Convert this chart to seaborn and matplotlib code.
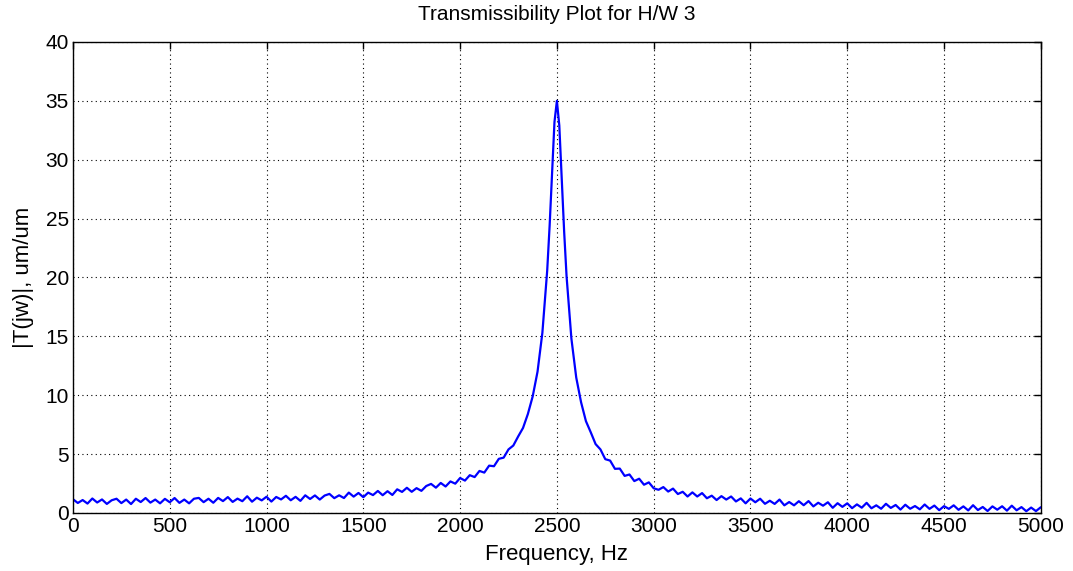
import matplotlib
matplotlib.use("Agg")
import matplotlib.pyplot as plt
import seaborn as sns
import numpy as np
import pandas as pd

# frequency grid (Hz): finer spacing around the resonance
freq_hz = np.concatenate([
    np.arange(0, 2000, 25),        # 80 pts
    np.arange(2000, 2450, 25),     # 18 pts
    np.arange(2450, 2551, 12.5),   # 9 pts
    np.arange(2575, 3001, 25),     # 18 pts
    np.arange(3025, 5001, 25),     # 80 pts
])

# |T(jw)|, noise included
mag_low = [
    1.17, 0.85, 1.10, 0.80, 1.23, 0.89, 1.15, 0.77, 1.08, 1.21,
    0.84, 1.14, 0.76, 1.21, 0.93, 1.27, 0.88, 1.14, 0.82, 1.20,
    0.91, 1.27, 0.86, 1.14, 0.82, 1.21, 1.28, 0.92, 1.21, 0.87,
    1.28, 1.01, 1.35, 0.94, 1.22, 1.00, 1.42, 0.96, 1.30, 1.07,
    1.38, 0.97, 1.36, 1.15, 1.46, 1.08, 1.37, 1.03, 1.50, 1.19,
    1.49, 1.14, 1.48, 1.62, 1.26, 1.50, 1.27, 1.73, 1.39, 1.70,
    1.34, 1.73, 1.52, 1.87, 1.51, 1.85, 1.53, 2.01, 1.79, 2.14,
    1.80, 2.11, 1.88, 2.29, 2.47, 2.15, 2.55, 2.25, 2.68, 2.49,
]
mag_rise = [
    2.97, 2.75, 3.21, 3.05, 3.57, 3.43, 4.02, 3.97, 4.60, 4.70,
    5.40, 5.73, 6.50, 7.22, 8.40, 9.90, 12.0, 15.3,
]
mag_peak = [20.6, 24.4, 28.9, 33.2, 35.0, 32.9, 28.4, 23.9, 20.1]
mag_fall = [
    14.8, 11.5, 9.40, 7.80, 6.85, 5.85, 5.40, 4.57, 4.45, 3.75,
    3.77, 3.15, 3.27, 2.71, 2.91, 2.40, 2.60, 2.10,
]
mag_high = [
    1.97, 2.20, 1.82, 2.07, 1.61, 1.80, 1.40, 1.75, 1.40, 1.69,
    1.25, 1.47, 1.10, 1.43, 1.14, 1.40, 0.98, 1.24, 0.82, 1.23,
    0.91, 1.21, 0.78, 1.04, 0.77, 1.14, 0.65, 0.93, 0.65, 1.00,
    0.66, 1.01, 0.56, 0.87, 0.62, 0.91, 0.44, 0.83, 0.52, 0.82,
    0.41, 0.73, 0.45, 0.86, 0.40, 0.65, 0.36, 0.78, 0.43, 0.68,
    0.29, 0.70, 0.36, 0.59, 0.31, 0.72, 0.35, 0.63, 0.24, 0.58,
    0.35, 0.65, 0.27, 0.56, 0.22, 0.66, 0.25, 0.51, 0.17, 0.56,
    0.28, 0.57, 0.20, 0.62, 0.23, 0.50, 0.15, 0.46, 0.16, 0.49,
]

xticks = list(range(0, 5001, 500))
yticks = list(range(0, 41, 5))

df = pd.DataFrame({
    "freq": freq_hz,
    "mag": mag_low + mag_rise + mag_peak + mag_fall + mag_high,
})

sns.set_style("white")
plt.rcParams["font.family"] = ["Liberation Sans", "DejaVu Sans"]
plt.rcParams["text.color"] = "black"
plt.rcParams["axes.labelcolor"] = "black"

fig = plt.figure(figsize=(10.73, 5.71), dpi=100)
ax = fig.add_axes([0.068, 0.1016, 0.902, 0.8249])

sns.lineplot(data=df, x="freq", y="mag", estimator=None, sort=False,
             color="#0000ff", lw=1.6, ax=ax)

ax.set_xlim(0, 5000)
ax.set_ylim(0, 40)
ax.set_xticks(xticks)
ax.set_yticks(yticks)
ax.grid(True, color="black", linestyle=(0, (1, 3)), linewidth=0.8)
ax.tick_params(direction="in", length=5, width=1, top=True, right=True,
               labelsize=15, colors="black", pad=3)
for s in ax.spines.values():
    s.set_color("black")
    s.set_linewidth(1.0)

ax.set_title("Transmissibility Plot for H/W 3", fontsize=15, pad=16, color="black")
ax.set_xlabel("Frequency, Hz", fontsize=16, labelpad=6, color="black")
ax.set_ylabel("|T(jw)|, um/um", fontsize=16, labelpad=8, color="black")

fig.savefig("out.png", dpi=100, facecolor="white")
